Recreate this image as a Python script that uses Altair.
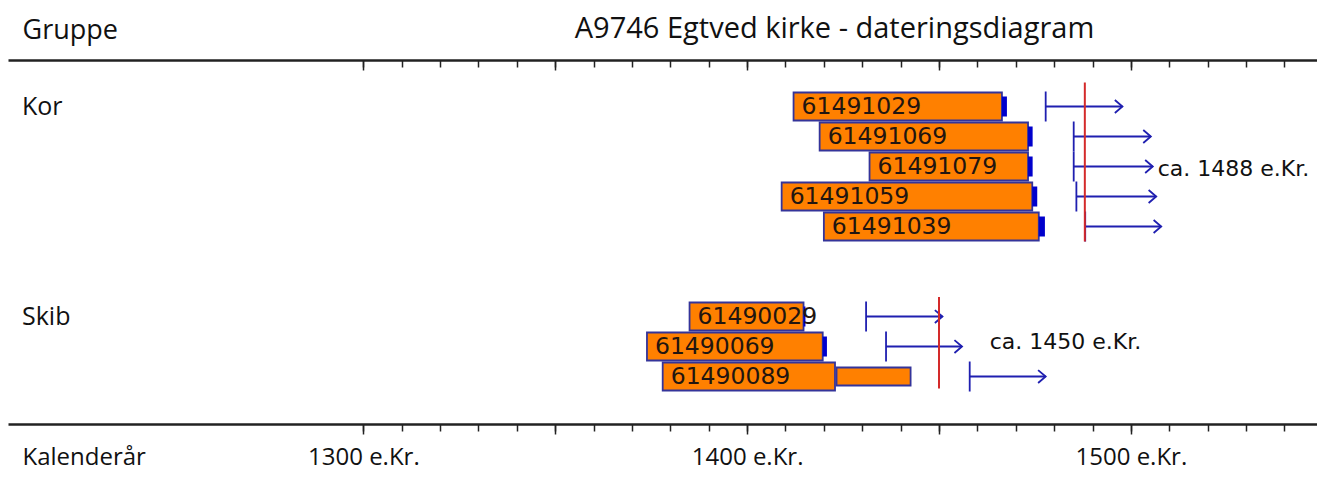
import altair as alt
import pandas as pd

# ---------------- data ----------------
groups = ["Kor", "Kor", "Kor", "Kor", "Kor", "Skib", "Skib", "Skib"]
rows = [0, 1, 2, 3, 4, 7, 8, 9]
samples = ["61491029", "61491069", "61491079", "61491059", "61491039",
           "61490029", "61490069", "61490089"]
start = [1412.1, 1418.9, 1431.9, 1409.0, 1420.0, 1385.0, 1373.9, 1378.0]
end = [1466.4, 1473.2, 1473.2, 1474.3, 1476.0, 1414.7, 1419.7, 1422.9]
cap_end = [1467.7, 1474.4, 1474.4, 1475.6, 1477.6, 1415.2, 1420.8, None]
fell_from = [1477.8, 1485.1, 1485.1, 1485.8, 1488.1, 1431.0, 1436.2, 1458.0]
fell_to = [1497.8, 1505.2, 1505.7, 1506.6, 1507.9, 1450.9, 1456.0, 1477.8]

sap_row = [9]
sap_start = [1423.3]
sap_end = [1442.6]

group_names = ["Kor", "Skib"]
group_rows = [0, 7]
est_year = [1488, 1450]
est_top = [-0.8, 6.35]
est_bottom = [4.5, 9.4]
est_labels = ["ca. 1488 e.Kr.", "ca. 1450 e.Kr."]
est_label_year = [1507.0, 1463.2]
est_label_row = [2.07, 7.85]

minor_ticks = [1300, 1310, 1320, 1330, 1340, 1350, 1360, 1370, 1380, 1390,
               1400, 1410, 1420, 1430, 1440, 1450, 1460, 1470, 1480, 1490,
               1500, 1510, 1520, 1530, 1540]
major_ticks = [1300, 1350, 1400, 1450, 1500]

title_text = "A9746 Egtved kirke - dateringsdiagram"

# ---------------- tables ----------------
df = pd.DataFrame({"group": groups, "row": rows, "sample": samples,
                   "start": start, "end": end, "cap_end": cap_end,
                   "fell_from": fell_from, "fell_to": fell_to})
caps = df.dropna(subset=["cap_end"])
sap = pd.DataFrame({"row": sap_row, "start": sap_start, "end": sap_end})
grp = pd.DataFrame({"name": group_names, "row": group_rows})
est = pd.DataFrame({"year": est_year, "top": est_top, "bottom": est_bottom,
                    "label": est_labels, "lx": est_label_year, "lrow": est_label_row})

W, H = 1309, 364
AXC = "#222222"
LABEL_FONT = "Open Sans"
xs = alt.Scale(domain=[1207.4, 1548.5], nice=False, zero=False, padding=0)
ys = alt.Scale(domain=[-1.55, 10.583], reverse=True, nice=False, zero=False, padding=0)

BLUE = "#1f1fb0"
RED = "#d42a2a"

def Y(field="row"):
    return alt.Y(f"{field}:Q", scale=ys, axis=None)

axis_top_minor = alt.Axis(orient="bottom", offset=-H, values=minor_ticks, tickSize=7,
                          tickWidth=1.5, tickColor=AXC, labels=False, domain=True,
                          domainWidth=2.5, domainColor=AXC, grid=False,
                          title="Gruppe", titleX=14, titleY=-43, titleAlign="left",
                          titleBaseline="top", titleFont=LABEL_FONT, titleFontSize=27,
                          titleFontWeight="normal", titleColor="#111111")
axis_top_major = alt.Axis(orient="bottom", offset=-H, values=major_ticks, tickSize=10,
                          tickWidth=1.5, tickColor=AXC, labels=False, domain=False,
                          grid=False, title=None)
axis_bot_minor = alt.Axis(orient="bottom", values=minor_ticks, tickSize=7,
                          tickWidth=1.5, tickColor=AXC, labels=False, domain=True,
                          domainWidth=2.5, domainColor=AXC, grid=False,
                          title="Kalenderår", titleX=14, titleY=33, titleAlign="left",
                          titleBaseline="middle", titleFont=LABEL_FONT, titleFontSize=24,
                          titleFontWeight="normal", titleColor="#111111")
axis_bot_major = alt.Axis(orient="bottom", values=major_ticks, tickSize=10,
                          tickWidth=1.5, tickColor=AXC, domain=False, grid=False,
                          labelExpr="datum.value % 100 === 0 ? datum.value + ' e.Kr.' : ''",
                          labelFont=LABEL_FONT, labelFontSize=24, labelColor="#111111",
                          labelBaseline="middle", labelPadding=23, labelFlush=False,
                          labelOverlap=False, title=None)

bars = alt.Chart(df).mark_bar(orient="horizontal", size=28, fill="#ff8000",
                              stroke="#34349a", strokeWidth=1.8).encode(
    x=alt.X("start:Q", scale=xs, axis=axis_top_minor), x2="end:Q", y=Y())

sapbar = alt.Chart(sap).mark_bar(orient="horizontal", size=18, fill="#ff8000",
                                 stroke="#34349a", strokeWidth=1.8).encode(
    x=alt.X("start:Q", scale=xs, axis=None), x2="end:Q", y=Y())

capbars = alt.Chart(caps).mark_bar(orient="horizontal", size=20, color="#0000cc").encode(
    x=alt.X("end:Q", scale=xs, axis=axis_top_major), x2="cap_end:Q", y=Y())

labels = alt.Chart(df).mark_text(align="left", baseline="middle", dx=8,
                                 font="DejaVu Sans", fontSize=23.5, color="#221510").encode(
    x=alt.X("start:Q", scale=xs, axis=axis_bot_minor), y=Y(), text="sample:N")

arrow_lines = alt.Chart(df).mark_rule(color=BLUE, strokeWidth=1.8).encode(
    x=alt.X("fell_from:Q", scale=xs, axis=axis_bot_major), x2="fell_to:Q", y=Y())

arrow_starts = alt.Chart(df).transform_calculate(
    r0="datum.row - 0.5", r1="datum.row + 0.5").mark_rule(color=BLUE, strokeWidth=1.8).encode(
    x=alt.X("fell_from:Q", scale=xs, axis=None), y=Y("r0"), y2="r1:Q")

arrow_heads = alt.Chart(df).mark_point(shape="M-1,-0.85L0,0L-1,0.85", filled=False,
                                       size=230, color=BLUE, strokeWidth=1.8, opacity=1).encode(
    x=alt.X("fell_to:Q", scale=xs, axis=None), y=Y())

red_lines = alt.Chart(est).mark_rule(color=RED, strokeWidth=2).encode(
    x=alt.X("year:Q", scale=xs, axis=None), y=Y("top"), y2="bottom:Q")

est_text = alt.Chart(est).mark_text(align="left", baseline="middle", font="DejaVu Sans",
                                    fontSize=22, color="#111111").encode(
    x=alt.X("lx:Q", scale=xs, axis=None), y=Y("lrow"), text="label:N")

grp_text = alt.Chart(grp).mark_text(align="left", baseline="middle", font=LABEL_FONT,
                                    fontSize=25, color="#111111").encode(
    x=alt.value(14), y=Y(), text="name:N")

chart = alt.layer(
    bars, sapbar, capbars, labels, arrow_lines, arrow_starts, arrow_heads,
    red_lines, est_text, grp_text
).resolve_axis(x="independent").properties(
    width=W, height=H,
    autosize=alt.AutoSizeParams(type="none"),
    padding={"left": 0, "top": 52, "right": 0, "bottom": 47},
    title=alt.TitleParams(text=title_text, anchor="middle", frame="group", dx=172,
                          baseline="top", offset=-28, font=LABEL_FONT, fontSize=29,
                          fontWeight="normal", color="#111111"),
    background="white",
).configure_view(stroke=None)

chart.save("out.html", embed_options={"renderer": "svg", "actions": False})
